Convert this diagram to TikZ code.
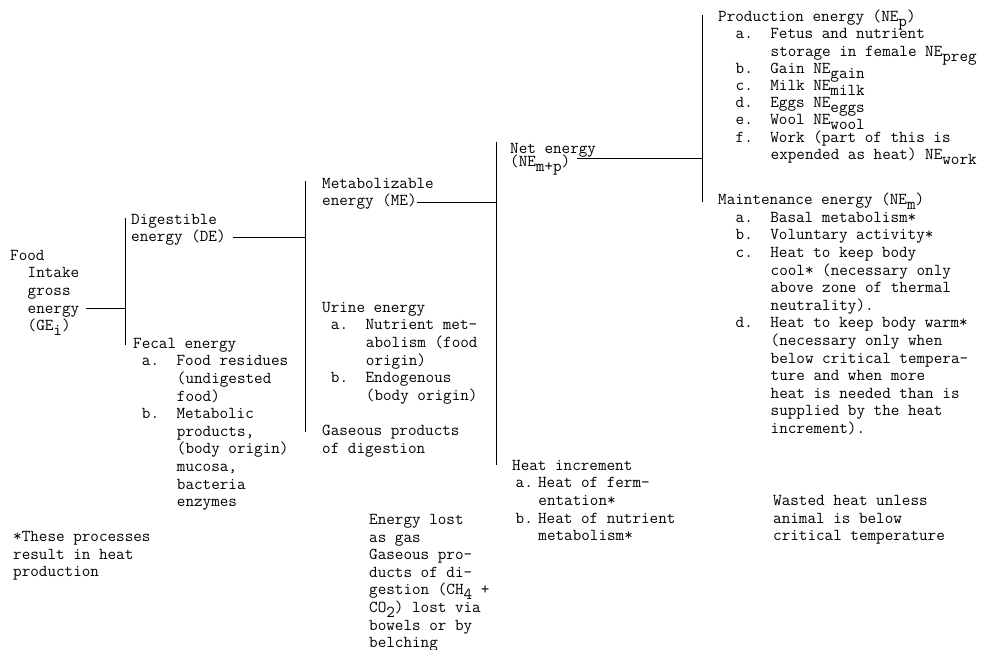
\documentclass[tikz,border=0pt]{standalone}
\newlength{\cw}
\setlength{\cw}{8.75pt}
\newcommand{\ind}[1]{\hspace*{#1\cw}}
\newcommand{\dn}[1]{\smash{\raisebox{-5pt}{#1}}}
\newcommand{\tightlines}{\lineskiplimit=-20pt\relax}
\begin{document}
\begin{tikzpicture}[x=1pt,y=-1pt,
        txt/.style={anchor=north west,yshift=9pt,inner sep=0pt,align=left,
            font=\ttfamily\fontsize{16.67}{17.6}\selectfont,
            execute at begin node={\rule{0pt}{13pt}}},
        link/.style={line width=0.9pt}]
    \useasboundingbox (0,0) rectangle (981,649);
    % blocks of text, placed at the first line
    \node [txt] (ge) at (10,259) {Food\\\ind{2}Intake\\\ind{2}gross\\\ind{2}energy\\\ind{2}(GE\dn{i})};
    \node [txt] (de) at (131,223) {Digestible\\energy (DE)};
    \node [txt] (fe) at (133,347) {Fecal energy\\
        \ind{1}a.\ind{2}Food residues\\\ind{5}(undigested\\\ind{5}food)\\
        \ind{1}b.\ind{2}Metabolic\\\ind{5}products,\\\ind{5}(body origin)\\\ind{5}mucosa,\\\ind{5}bacteria\\\ind{5}enzymes};
    \node [txt] (me) at (322,187) {Metabolizable\\energy (ME)};
    \node [txt] (ue) at (322,311) {Urine energy\\
        \ind{1}a.\ind{2}Nutrient met-\\\ind{5}abolism (food\\\ind{5}origin)\\
        \ind{1}b.\ind{2}Endogenous\\\ind{5}(body origin)};
    \node [txt] (gp) at (322,434) {Gaseous products\\of digestion};
    \node [txt] (gas) at (369,523) {Energy lost\\as gas\\Gaseous pro-\\ducts of di-\\gestion (CH\dn{4} +\\CO\dn{2}) lost via\\bowels or by\\belching};
    \node [txt,font=\ttfamily\fontsize{16.67}{13}\selectfont\tightlines] (ne) at (510,152) {Net energy\\(NE\dn{m+p})};
    \node [txt] (hi) at (512,469) {Heat increment\\
        \ind{0.4}a.\ind{0.6}Heat of ferm-\\\ind{3}entation*\\
        \ind{0.4}b.\ind{0.6}Heat of nutrient\\\ind{3}metabolism*};
    \node [txt,font=\ttfamily\fontsize{16.67}{17.2}\selectfont] (pe) at (718,19) {Production energy (NE\dn{p})\\
        \ind{2}a.\ind{2}Fetus and nutrient\\\ind{6}storage in female NE\dn{preg}\\
        \ind{2}b.\ind{2}Gain NE\dn{gain}\\
        \ind{2}c.\ind{2}Milk NE\dn{milk}\\
        \ind{2}d.\ind{2}Eggs NE\dn{eggs}\\
        \ind{2}e.\ind{2}Wool NE\dn{wool}\\
        \ind{2}f.\ind{2}Work (part of this is\\\ind{6}expended as heat) NE\dn{work}};
    \node [txt] (mn) at (718,202) {Maintenance energy (NE\dn{m})\\
        \ind{2}a.\ind{2}Basal metabolism*\\
        \ind{2}b.\ind{2}Voluntary activity*\\
        \ind{2}c.\ind{2}Heat to keep body\\\ind{6}cool* (necessary only\\\ind{6}above zone of thermal\\\ind{6}neutrality).\\
        \ind{2}d.\ind{2}Heat to keep body warm*\\\ind{6}(necessary only when\\\ind{6}below critical tempera-\\\ind{6}ture and when more\\\ind{6}heat is needed than is\\\ind{6}supplied by the heat\\\ind{6}increment).};
    \node [txt] (wh) at (773,504) {Wasted heat unless\\animal is below\\critical temperature};
    \node [txt] (note) at (13,540) {*These processes\\result in heat\\production};
    % brackets
    \coordinate (b1t) at (125,218); \coordinate (b1b) at (125,345);
    \coordinate (b2t) at (305,181); \coordinate (b2b) at (305,432);
    \coordinate (b3t) at (496,142); \coordinate (b3b) at (496,465);
    \coordinate (b4t) at (702,15);  \coordinate (b4b) at (702,202);
    \foreach \b in {1,...,4}
        \draw [link] (b\b t) -- (b\b b);
    % ties from each block to the next bracket
    \coordinate (gej) at (86,308);
    \coordinate (dej) at (233,237);
    \coordinate (mej) at (417,202);
    \coordinate (nej) at (577,158);
    \draw [link] (gej) -- (gej -| b1t);
    \draw [link] (dej) -- (dej -| b2t);
    \draw [link] (mej) -- (mej -| b3t);
    \draw [link] (nej) -- (nej -| b4t);
\end{tikzpicture}
\end{document}
